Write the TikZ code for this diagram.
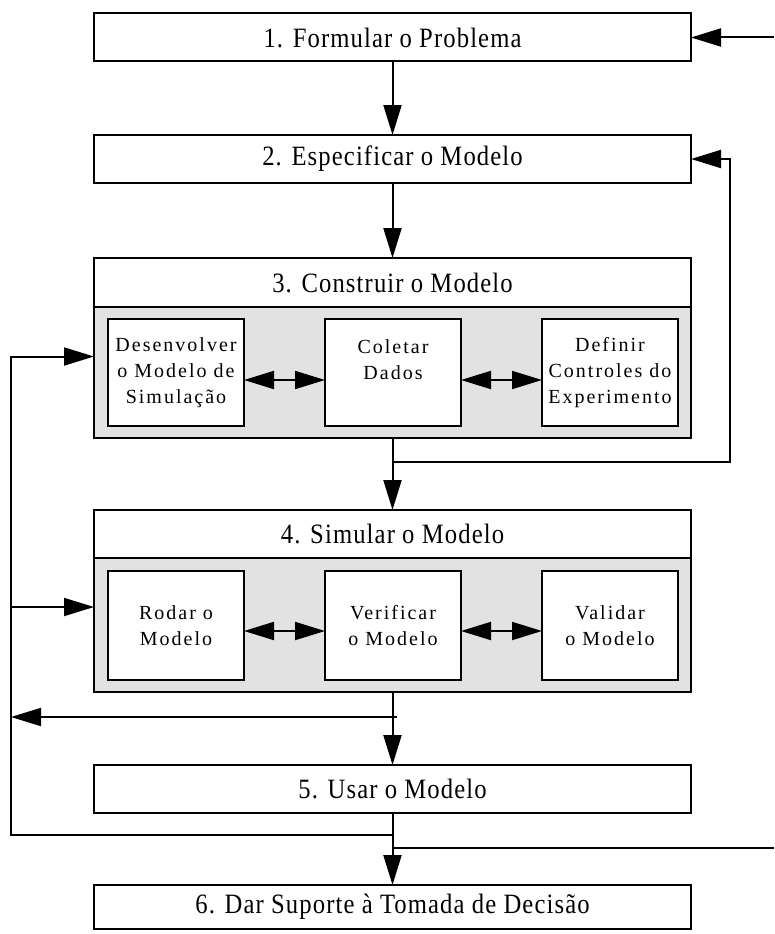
\documentclass[tikz,border=0pt]{standalone}
\usepackage{fontspec}
\setmainfont{Liberation Serif}
\newfontfamily\hdfont{Liberation Serif}[FakeStretch=0.88,LetterSpace=4]
\newfontfamily\subfont{Liberation Serif}[LetterSpace=10]
\usetikzlibrary{arrows.meta, positioning, calc}
\definecolor{bodybg}{HTML}{E2E2E2}

\begin{document}
\begin{tikzpicture}[x=1pt, y=-1pt,
    stage/.style={rectangle, draw, line width=2pt, fill=white, outer sep=0pt,
                  minimum width=597pt, minimum height=48pt, inner sep=0pt,
                  font=\hdfont\fontsize{28}{30}\selectfont},
    body/.style={rectangle, draw, line width=2pt, fill=bodybg, outer sep=0pt,
                 minimum width=597pt, inner sep=0pt},
    sub/.style={rectangle, draw, line width=2pt, fill=white, outer sep=0pt,
                minimum width=136pt, inner sep=0pt, align=center,
                font=\subfont\fontsize{20}{26}\selectfont},
    arr/.style={-{Triangle[length=30pt, width=18pt]}, line width=2pt},
    dbl/.style={{Triangle[length=30pt, width=18pt]}-{Triangle[length=30pt, width=18pt]}, line width=2pt},
    ln/.style={line width=2pt}
]
    \useasboundingbox (0,0) rectangle (774,934);

    % etapas
    \node[stage] (p1) at (392.5,37.5) {1. Formular o Problema};
    \node[stage] (p2) at (392.5,159) {2. Especificar o Modelo};
    \node[stage, minimum height=49pt] (p3h) at (392.5,282.5) {3. Construir o Modelo};
    \node[body, minimum height=131pt, below=0pt of p3h] (p3b) {};
    \node[sub, minimum height=107pt] (dev) at (176,372.5) {Desenvolver\\o Modelo de\\Simulação};
    \node[sub, minimum height=107pt] (col) at (393,372.5) {Coletar\\Dados\\\mbox{}};
    \node[sub, minimum height=107pt] (def) at (610,372.5) {Definir\\Controles do\\Experimento};
    \node[stage] (p4h) at (392.5,534) {4. Simular o Modelo};
    \node[body, minimum height=134pt, below=0pt of p4h] (p4b) {};
    \node[sub, minimum height=109pt] (rod) at (176,625.5) {Rodar o\\Modelo};
    \node[sub, minimum height=109pt] (ver) at (393,625.5) {Verificar\\o Modelo};
    \node[sub, minimum height=109pt] (val) at (610,625.5) {Validar\\o Modelo};
    \node[stage] (p5) at (392.5,789) {5. Usar o Modelo};
    \node[stage, minimum height=44pt] (p6) at (392.5,907) {6. Dar Suporte à Tomada de Decisão};

    % pontos de retorno
    \coordinate (rin) at (774,37.5);
    \coordinate (rb) at (730,462);
    \coordinate (rout) at (774,848);
    \coordinate (lb) at (11,835);
    \coordinate (lt) at (11,717);
    \coordinate (l4) at ([yshift=18pt]p4b.west);

    % fluxo principal
    \draw[arr] (p1) -- (p2);
    \draw[arr] (p2) -- (p3h);
    \draw[arr] (p3b) -- (p4h);
    \draw[arr] (p4b) -- (p5);
    \draw[arr] (p5) -- (p6);
    \draw[dbl] ([yshift=-7.5pt]dev.east) -- ([yshift=-7.5pt]col.west);
    \draw[dbl] ([yshift=-7.5pt]col.east) -- ([yshift=-7.5pt]def.west);
    \draw[dbl] ([yshift=-5.5pt]rod.east) -- ([yshift=-5.5pt]ver.west);
    \draw[dbl] ([yshift=-5.5pt]ver.east) -- ([yshift=-5.5pt]val.west);

    % retornos
    \draw[arr] (rin) -- (p1.east);
    \draw[arr] (p3b.south) |- (rb) |- (p2.east);
    \draw[ln] (p5.south |- rout) -- (rout);
    \draw[arr] ($(p4b.south)+(4,25)$) -- (lt);
    \draw[arr] (p5.south) |- (lb) |- ([yshift=16pt]p3b.west);
    \draw[arr] (lb |- l4) -- (l4);
\end{tikzpicture}
\end{document}
